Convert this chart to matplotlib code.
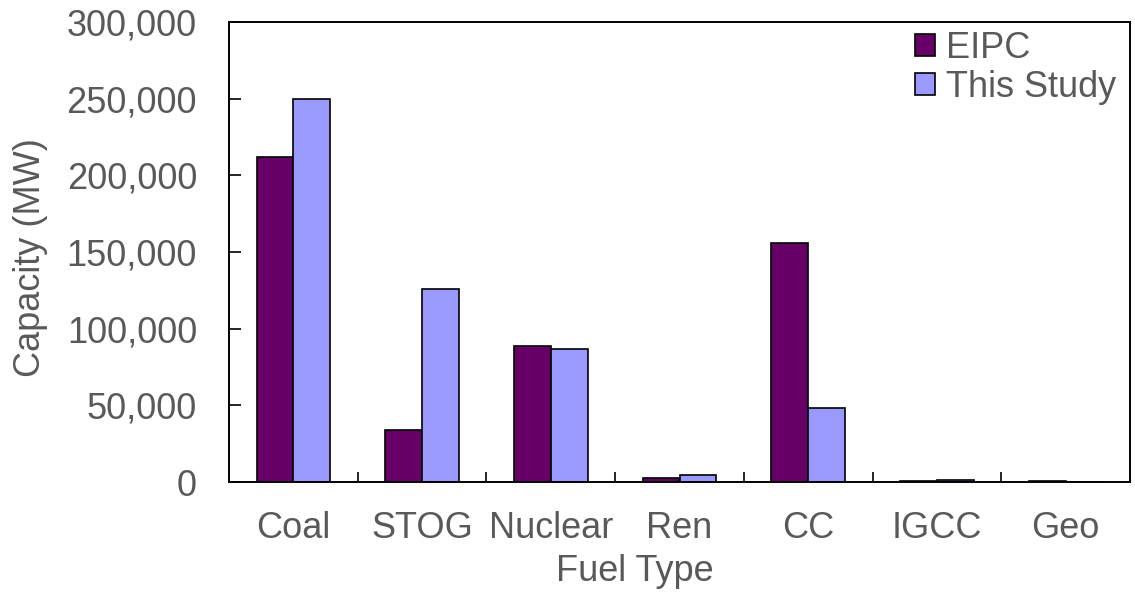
import matplotlib
matplotlib.use('Agg')
import matplotlib.pyplot as plt
from matplotlib.ticker import FixedLocator, StrMethodFormatter
import numpy as np

plt.rcParams['font.family'] = ['Liberation Sans', 'DejaVu Sans']

categories = ['Coal', 'STOG', 'Nuclear', 'Ren', 'CC', 'IGCC', 'Geo']
eipc = [212000, 34000, 89000, 2600, 156000, 600, 500]
this_study = [250000, 126000, 86500, 4400, 48000, 1600, 0]

text_grey = '#595959'
fs = 26

fig = plt.figure(figsize=(11.35, 5.92), dpi=100)
ax = fig.add_axes([229/1135, 1 - 482/592, (1130 - 229)/1135, (482 - 22)/592])

x = np.arange(len(categories))
w = 1 / 3.5
ax.bar(x - w/2, eipc, w, color='#660066', edgecolor='black', linewidth=1.2, label='EIPC')
ax.bar(x + w/2, this_study, w, color='#9999FF', edgecolor='black', linewidth=1.2, label='This Study')

ax.set_xlim(-0.5, len(categories) - 0.5)
ax.set_ylim(0, 300000)
ax.set_yticks(np.arange(0, 300001, 50000))
ax.yaxis.set_major_formatter(StrMethodFormatter('{x:,.0f}'))
ax.set_xticks(x)
ax.set_xticklabels(categories)
# small inward ticks between the fuel groups
ax.xaxis.set_minor_locator(FixedLocator(np.arange(0.5, len(categories) - 1, 1.0)))

ax.tick_params(axis='y', direction='in', length=8.6, width=1.2, pad=23,
               labelsize=fs, labelcolor=text_grey)
ax.tick_params(axis='x', which='major', length=0, pad=21, labelsize=fs, labelcolor=text_grey)
ax.tick_params(axis='x', which='minor', direction='in', length=7, width=1.2)

for s in ax.spines.values():
    s.set_linewidth(1.4)
    s.set_color('black')

ax.set_xlabel('Fuel Type', fontsize=fs, color=text_grey)
ax.xaxis.set_label_coords((635 - 229) / 901, -(554 - 482) / 460)
ax.set_ylabel('Capacity (MW)', fontsize=fs, color=text_grey)
ax.yaxis.set_label_coords((48 - 229) / 901, 0.5 - 6 / 460)

leg = ax.legend(loc='upper right', bbox_to_anchor=(1116/1135, 1 - 31/592),
                bbox_transform=fig.transFigure, frameon=False, fontsize=fs,
                handlelength=0.55, handleheight=0.55, handletextpad=0.3,
                labelspacing=0.1, borderpad=0, borderaxespad=0)
for t in leg.get_texts():
    t.set_color(text_grey)

fig.savefig('out.png', dpi=100)
